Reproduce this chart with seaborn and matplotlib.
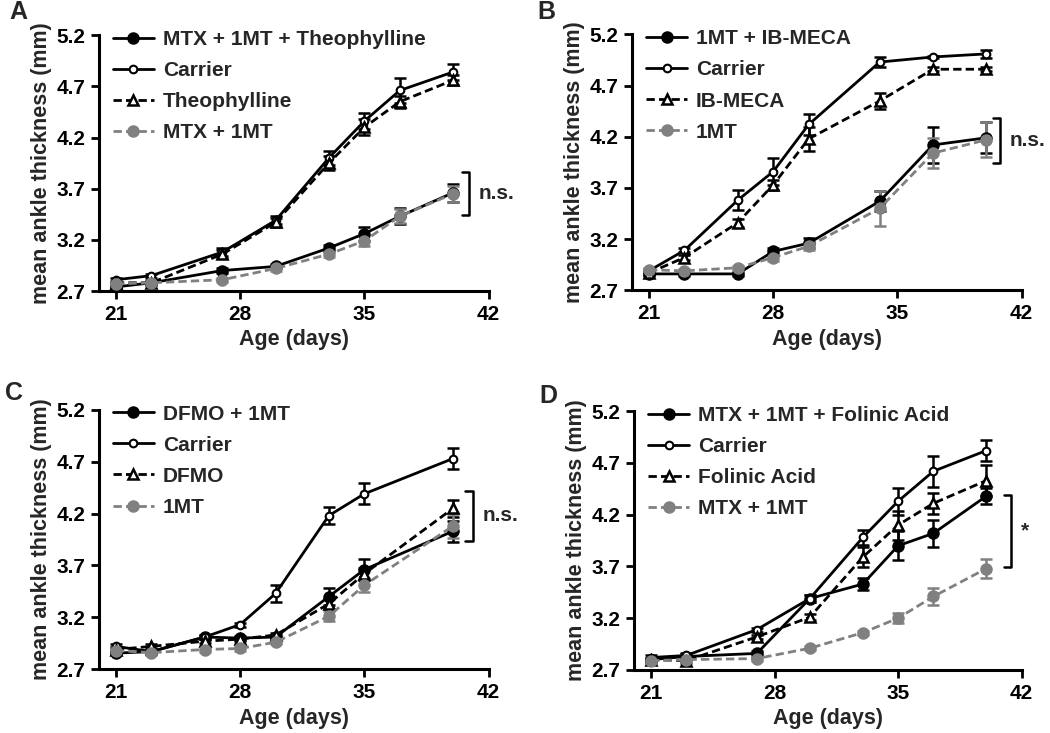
import numpy as np
import pandas as pd
import matplotlib.pyplot as plt
import seaborn as sns
from matplotlib.lines import Line2D

# ---- data ----
days_a = [21, 23, 27, 30, 33, 35, 37, 40]
a_combo = [2.74, 2.78, 2.90, 2.94, 3.12, 3.26, 3.43, 3.66]
a_combo_err = [0.02, 0.02, 0.02, 0.02, 0.03, 0.07, 0.08, 0.09]
a_carrier = [2.81, 2.85, 3.08, 3.39, 4.00, 4.36, 4.66, 4.84]
a_carrier_err = [0.02, 0.02, 0.04, 0.04, 0.07, 0.08, 0.12, 0.08]
a_drug = [2.78, 2.78, 3.06, 3.37, 3.95, 4.30, 4.55, 4.76]
a_drug_err = [0.02, 0.02, 0.04, 0.04, 0.07, 0.08, 0.06, 0.05]
a_base = [2.77, 2.78, 2.81, 2.92, 3.06, 3.19, 3.43, 3.65]
a_base_err = [0.02, 0.02, 0.02, 0.02, 0.03, 0.05, 0.07, 0.08]
a_labels = ["MTX + 1MT + Theophylline", "Carrier", "Theophylline", "MTX + 1MT"]

days_b = [21, 23, 26, 28, 30, 34, 37, 40]
b_combo = [2.86, 2.86, 2.86, 3.08, 3.16, 3.57, 4.12, 4.19]
b_combo_err = [0.02, 0.02, 0.02, 0.03, 0.05, 0.10, 0.18, 0.15]
b_carrier = [2.89, 3.09, 3.58, 3.86, 4.32, 4.93, 4.98, 5.01]
b_carrier_err = [0.02, 0.02, 0.10, 0.13, 0.10, 0.05, 0.01, 0.04]
b_drug = [2.87, 3.02, 3.36, 3.73, 4.18, 4.55, 4.86, 4.86]
b_drug_err = [0.02, 0.02, 0.04, 0.05, 0.12, 0.08, 0.02, 0.02]
b_base = [2.90, 2.89, 2.92, 3.02, 3.13, 3.50, 4.04, 4.17]
b_base_err = [0.02, 0.02, 0.02, 0.03, 0.04, 0.17, 0.15, 0.17]
b_labels = ["1MT + IB-MECA", "Carrier", "IB-MECA", "1MT"]

days_c = [21, 23, 26, 28, 30, 33, 35, 40]
c_combo = [2.855, 2.87, 3.01, 3.00, 3.01, 3.40, 3.66, 4.03]
c_combo_err = [0.02, 0.02, 0.02, 0.02, 0.02, 0.08, 0.10, 0.10]
c_carrier = [2.92, 2.87, 3.01, 3.13, 3.43, 4.18, 4.39, 4.73]
c_carrier_err = [0.02, 0.02, 0.02, 0.02, 0.08, 0.08, 0.10, 0.10]
c_drug = [2.89, 2.92, 2.97, 2.99, 3.03, 3.33, 3.62, 4.25]
c_drug_err = [0.02, 0.02, 0.02, 0.02, 0.02, 0.05, 0.06, 0.08]
c_base = [2.88, 2.86, 2.89, 2.90, 2.96, 3.21, 3.51, 4.08]
c_base_err = [0.02, 0.02, 0.02, 0.02, 0.02, 0.05, 0.07, 0.12]
c_labels = ["DFMO + 1MT", "Carrier", "DFMO", "1MT"]

days_d = [21, 23, 27, 30, 33, 35, 37, 40]
d_combo = [2.80, 2.83, 2.86, 3.39, 3.53, 3.90, 4.02, 4.38]
d_combo_err = [0.02, 0.02, 0.02, 0.03, 0.06, 0.14, 0.13, 0.08]
d_carrier = [2.82, 2.84, 3.09, 3.39, 3.98, 4.33, 4.62, 4.82]
d_carrier_err = [0.02, 0.02, 0.02, 0.03, 0.07, 0.13, 0.15, 0.10]
d_drug = [2.80, 2.79, 3.02, 3.21, 3.79, 4.10, 4.31, 4.53]
d_drug_err = [0.02, 0.02, 0.02, 0.03, 0.10, 0.14, 0.10, 0.15]
d_base = [2.79, 2.80, 2.81, 2.91, 3.06, 3.20, 3.41, 3.68]
d_base_err = [0.02, 0.02, 0.02, 0.02, 0.02, 0.05, 0.08, 0.09]
d_labels = ["MTX + 1MT + Folinic Acid", "Carrier", "Folinic Acid", "MTX + 1MT"]

x_ticks = [21, 28, 35, 42]
y_ticks = [2.7, 3.2, 3.7, 4.2, 4.7, 5.2]

# bracket: (x, y_top, y_bottom, text)
brackets = {
    "A": (40.9, 3.86, 3.44, "n.s."),
    "B": (40.8, 4.38, 3.94, "n.s."),
    "C": (41.1, 4.42, 3.94, "n.s."),
    "D": (41.4, 4.39, 3.69, "*"),
}

# ---- style ----
sns.set_theme(style="ticks")
plt.rcParams['font.family'] = ['Liberation Sans', 'DejaVu Sans']
plt.rcParams['font.weight'] = 'bold'
plt.rcParams['axes.labelweight'] = 'bold'

gray = "#808080"
styles = [
    dict(color="black", ls="-", marker="o", ms=7.5, mfc="black", mec="black", mew=1.5, dashes=None),
    dict(color="black", ls="-", marker="o", ms=5.5, mfc="white", mec="black", mew=1.5, dashes=None),
    dict(color="black", ls="--", marker="^", ms=7.5, mfc="white", mec="black", mew=1.8, dashes=(3, 1.5)),
    dict(color=gray, ls="--", marker="o", ms=7.5, mfc=gray, mec=gray, mew=1.5, dashes=(3, 1.5)),
]

fig = plt.figure(figsize=(10.5, 7.33), dpi=100)
positions = {
    "A": [0.0943, 0.603, 0.371, 0.349],
    "B": [0.602, 0.604, 0.371, 0.349],
    "C": [0.0943, 0.087, 0.371, 0.354],
    "D": [0.604, 0.086, 0.369, 0.353],
}
letter_xy = {"A": (0.009, 0.983), "B": (0.512, 0.983), "C": (0.005, 0.464), "D": (0.514, 0.460)}

panels = {
    "A": (days_a, [a_combo, a_carrier, a_drug, a_base],
          [a_combo_err, a_carrier_err, a_drug_err, a_base_err], a_labels),
    "B": (days_b, [b_combo, b_carrier, b_drug, b_base],
          [b_combo_err, b_carrier_err, b_drug_err, b_base_err], b_labels),
    "C": (days_c, [c_combo, c_carrier, c_drug, c_base],
          [c_combo_err, c_carrier_err, c_drug_err, c_base_err], c_labels),
    "D": (days_d, [d_combo, d_carrier, d_drug, d_base],
          [d_combo_err, d_carrier_err, d_drug_err, d_base_err], d_labels),
}

for key, (days, series, errs, labels) in panels.items():
    ax = fig.add_axes(positions[key])
    handles = []
    for i in [3, 2, 1, 0]:
        st = styles[i]
        df = pd.DataFrame({"day": days, "val": series[i]})
        ax.errorbar(days, series[i], yerr=errs[i], fmt="none", ecolor=st["color"],
                    elinewidth=1.8, capsize=4.5, capthick=1.8, zorder=2 + i * 0.1)
        sns.lineplot(data=df, x="day", y="val", ax=ax, color=st["color"],
                     linestyle=st["ls"], lw=2, marker=st["marker"], markersize=st["ms"],
                     markerfacecolor=st["mfc"], markeredgecolor=st["mec"],
                     markeredgewidth=st["mew"], zorder=3 + i * 0.1, legend=False)
        if st["dashes"] is not None:
            ax.lines[-1].set_dashes(st["dashes"])
    for i in range(4):
        st = styles[i]
        h = Line2D([], [], color=st["color"], lw=2, marker=st["marker"], markersize=st["ms"],
                   markerfacecolor=st["mfc"], markeredgecolor=st["mec"], markeredgewidth=st["mew"])
        if st["dashes"] is not None:
            h.set_dashes(st["dashes"])
        handles.append(h)
    ax.legend(handles, labels, loc="upper left", bbox_to_anchor=(0.035, 1.02),
              frameon=False, fontsize=15, handlelength=2.0, handletextpad=0.4,
              labelspacing=0.58, borderaxespad=0, borderpad=0)

    ax.set_xlim(20.05, 42)
    ax.set_ylim(2.7, 5.2)
    ax.set_xticks(x_ticks)
    ax.set_yticks(y_ticks)
    ax.set_yticklabels([f"{v:.1f}" for v in y_ticks])
    ax.tick_params(labelsize=15, width=2, length=6, color="black", labelcolor="black", pad=4)
    for s in ["left", "bottom"]:
        ax.spines[s].set_linewidth(2.2)
        ax.spines[s].set_color("black")
    sns.despine(ax=ax)
    ax.set_xlabel("Age (days)", fontsize=15.5, labelpad=4)
    ax.set_ylabel("mean ankle thickness (mm)", fontsize=15.5, labelpad=3)

    bx, ytop, ybot, txt = brackets[key]
    ax.plot([bx - 0.4, bx, bx, bx - 0.4], [ytop, ytop, ybot, ybot], color="black",
            lw=1.8, clip_on=False)
    ax.text(bx + 0.55, (ytop + ybot) / 2, txt, fontsize=15, va="center", ha="left",
            clip_on=False)

    lx, ly = letter_xy[key]
    fig.text(lx, ly, key, fontsize=18, fontweight="bold", va="center", ha="left")

fig.savefig("out.png", dpi=100)
